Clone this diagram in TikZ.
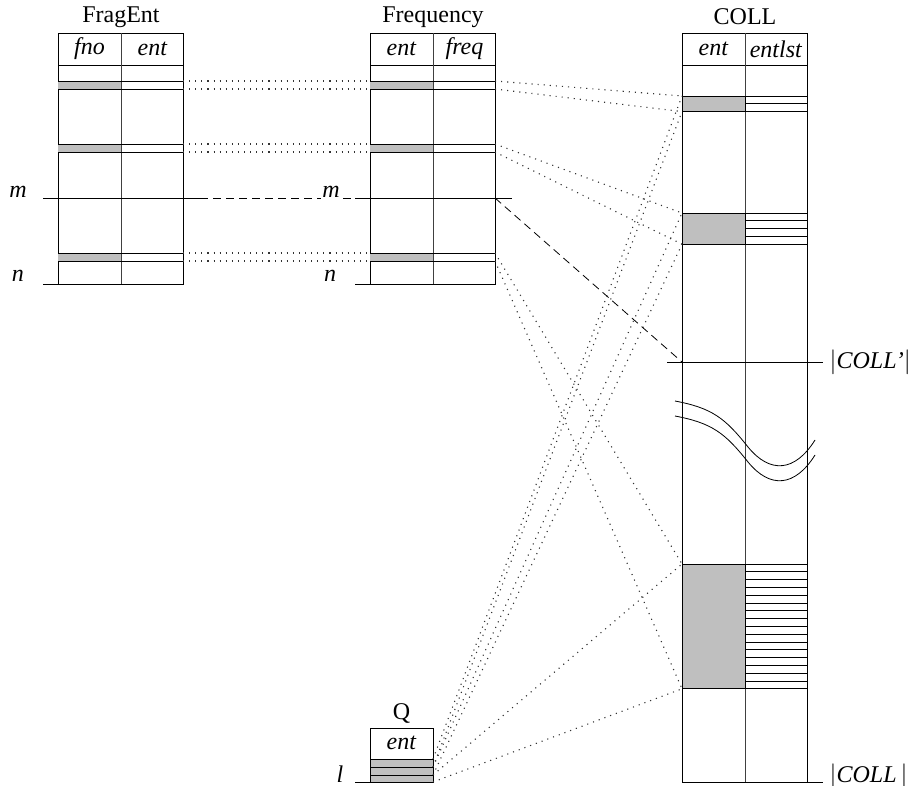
\documentclass[tikz,border=0pt]{standalone}
\usepackage{fontspec}
\setmainfont{Liberation Serif}

\begin{document}
\begin{tikzpicture}[x=1pt,y=-1pt,font=\fontsize{24}{28}\selectfont,line width=.8pt,
  band/.style={fill=black!25},sep/.style={black!75},
  dots/.style={black!80,line width=1.1pt,dash pattern=on 1.1pt off 5pt},
  cutline/.style={dash pattern=on 8pt off 5pt},lbl/.style={inner sep=1pt}]
\useasboundingbox(0,0)rectangle(917,786);
% FragEnt and Frequency
\foreach \n/\l/\t/\a/\b in {fe/58/FragEnt/fno/ent,fq/370/Frequency/ent/freq}{
  \node(\n-title)at(\l+63,17){\t};
  \node(\n-ha)at(\l+31.5,49){\textit{\a}};\node(\n-hb)at(\l+94.5,49){\textit{\b}};
  \draw(\l,33)rectangle(\l+125,284)(\l,65)--(\l+125,65);\draw[sep](\l+63,33)--(\l+63,284);
  \foreach \y[count=\i] in {81,144,253}{
    \fill[band](\l,\y)rectangle(\l+63,\y+8);\draw(\l,\y)--(\l+125,\y)(\l,\y+8)--(\l+125,\y+8);
    \coordinate(\n-l\i-t)at(\l,\y);\coordinate(\n-l\i-b)at(\l,\y+8);
    \coordinate(\n-r\i-t)at(\l+125,\y);\coordinate(\n-r\i-b)at(\l+125,\y+8);}
  \draw(\l-15,284)--(\l,284);
}
\node(fe-m)at(18,192){\textit{m}};\node(fe-n)at(18,276){\textit{n}};
\node(fq-n)at(330,276){\textit{n}};
\coordinate(fe-mr)at(200,198);\coordinate(fq-ml)at(355,198);\coordinate(fq-mr)at(495,198);
\draw(43,198)--(fe-mr);\draw(fq-ml)--(512,198);
\draw[cutline](fe-mr)--(fq-ml);
\node[fill=white,lbl](fq-m)at(331,192){\textit{m}};
% COLL
\node(co-title)at(745,17){COLL};
\node(co-ha)at(713.5,49){\textit{ent}};\node(co-hb)at(776,49){\textit{entlst}};
\draw(682,33)rectangle(807,782)(682,65)--(807,65);\draw[sep](745,33)--(745,782);
\foreach \y/\k[count=\i] in {96/2,213/4,564/16}{
  \fill[band](682,\y)rectangle(745,\y+\k*7.8);\draw(682,\y)rectangle(745,\y+\k*7.8);
  \foreach \j in {0,...,\k}\draw(745,\y+\j*7.8)--(807,\y+\j*7.8);
  \coordinate(co\i-t)at(682,\y);\coordinate(co\i-b)at(682,\y+\k*7.8);}
\coordinate(co-cut)at(682,362);
\draw(667,362)--(823,362);\node[anchor=west](co-cutlbl)at(826,362){$|$\textit{COLL'}$|$};
\draw(807,782)--(823,782);\node[anchor=west](co-endlbl)at(826,776){$|$\textit{COLL}\,$|$};
% break
\foreach \s in {0,15}
  \draw[yshift=-\s pt](675,401)..controls(712,408)and(725,418)..(748,447)..controls(770,474)and(795,472)..(815,440);
% Q
\node(q-title)at(401.5,713){Q};\node(q-h)at(401.5,743){\textit{ent}};
\fill[band](370,759)rectangle(433,782);
\draw(370,728)rectangle(433,782);\foreach \y in {759,767,775}\draw(370,\y)--(433,\y);
\foreach \y[count=\j from 0] in {759,767,775,782}\coordinate(q\j)at(433,\y);
\node(q-l)at(340,774){\textit{l}};\draw(355,782)--(370,782);
% connectors
\foreach \i in {1,2,3}{
  \draw[dots](fe-r\i-t)--(fq-l\i-t);\draw[dots](fe-r\i-b)--(fq-l\i-b);
  \draw[dots](fq-r\i-t)--(co\i-t);\draw[dots](fq-r\i-b)--(co\i-b);}
\draw[dots](q0)--(co1-t);\draw[dots](q1)--(co1-b);
\draw[dots](q1)--(co2-t);\draw[dots](q2)--(co2-b);
\draw[dots](q2)--(co3-t);\draw[dots](q3)--(co3-b);
\draw[cutline](fq-mr)--(co-cut);
\end{tikzpicture}
\end{document}
